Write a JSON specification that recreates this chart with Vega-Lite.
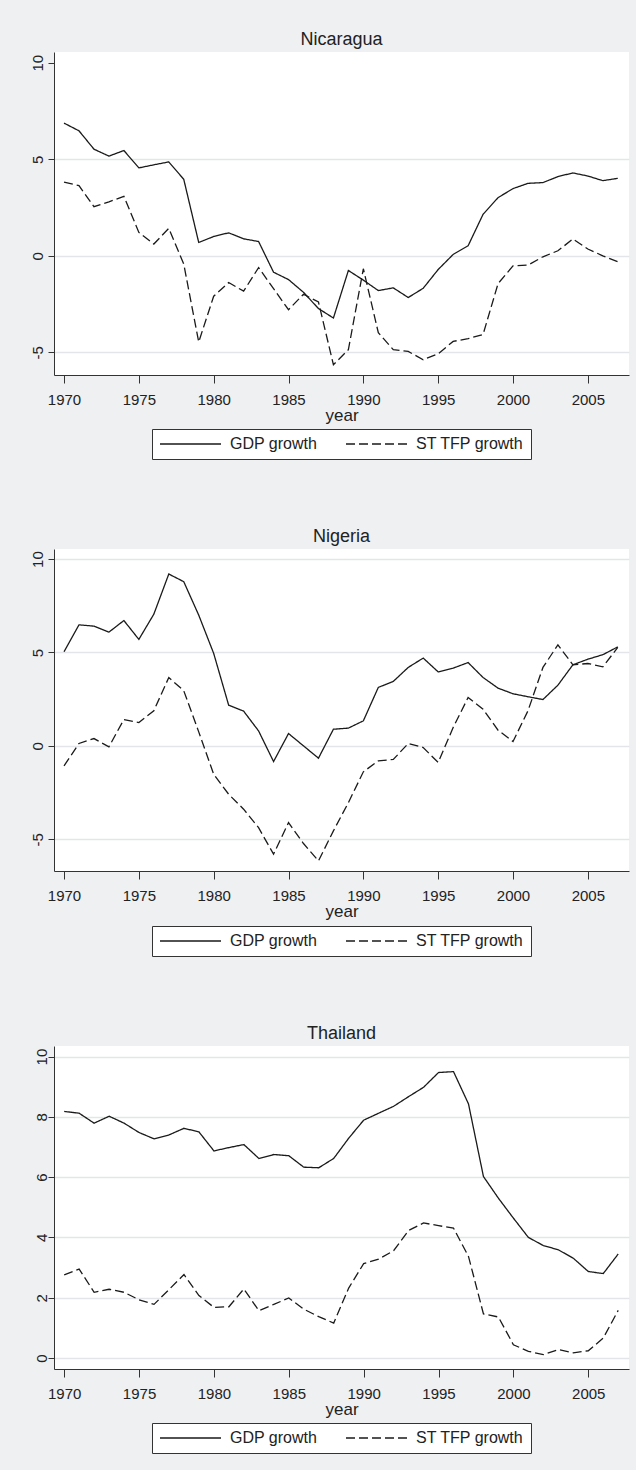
{
  "$schema": "https://vega.github.io/schema/vega-lite/v6.json",
  "background": "#eef0f2",
  "padding": {"left": 30, "top": 31, "right": 7, "bottom": 20},
  "spacing": 68,
  "resolve": {"scale": {"strokeDash": "independent"}, "legend": {"strokeDash": "independent"}},
  "config": {
    "font": "Liberation Sans",
    "view": {"stroke": null, "fill": "white"},
    "title": {"fontSize": 18, "fontWeight": "normal", "color": "#222222", "font": "Liberation Sans", "offset": 3},
    "axis": {
      "domainColor": "#333333",
      "tickColor": "#333333",
      "labelColor": "#222222",
      "titleColor": "#222222",
      "labelFont": "Liberation Sans",
      "titleFont": "Liberation Sans",
      "labelFontSize": 15,
      "titleFontSize": 17,
      "titleFontWeight": "normal",
      "gridColor": "#e3e5e8",
      "gridWidth": 1.5,
      "labelExpr": "'' + datum.value"
    },
    "axisX": {"grid": false, "tickSize": 8, "labelPadding": 9, "titlePadding": 0, "labelFlush": false, "labelOverlap": false},
    "axisY": {"grid": true, "tickSize": 6, "labelPadding": 3, "labelAngle": -90, "labelAlign": "center", "labelBaseline": "bottom", "title": null},
    "legend": {
      "orient": "none",
      "legendX": 98,
      "legendY": 377,
      "direction": "horizontal",
      "strokeColor": "#333333",
      "fillColor": "white",
      "padding": 7,
      "labelFont": "Liberation Sans",
      "labelFontSize": 16,
      "labelColor": "#222222",
      "labelOffset": 8,
      "columnPadding": 27,
      "clipHeight": 16,
      "symbolType": "stroke",
      "symbolSize": 3721,
      "symbolStrokeWidth": 1.3,
      "symbolStrokeColor": "#1a1a1a"
    }
  },
  "datasets": {
    "growth": [
      {"country": "Nicaragua", "year": 1970, "gdp": 6.87, "tfp": 3.81},
      {"country": "Nicaragua", "year": 1971, "gdp": 6.47, "tfp": 3.63},
      {"country": "Nicaragua", "year": 1972, "gdp": 5.52, "tfp": 2.54},
      {"country": "Nicaragua", "year": 1973, "gdp": 5.16, "tfp": 2.79},
      {"country": "Nicaragua", "year": 1974, "gdp": 5.45, "tfp": 3.08},
      {"country": "Nicaragua", "year": 1975, "gdp": 4.55, "tfp": 1.21},
      {"country": "Nicaragua", "year": 1976, "gdp": 4.71, "tfp": 0.61},
      {"country": "Nicaragua", "year": 1977, "gdp": 4.86, "tfp": 1.42},
      {"country": "Nicaragua", "year": 1978, "gdp": 3.96, "tfp": -0.43},
      {"country": "Nicaragua", "year": 1979, "gdp": 0.69, "tfp": -4.46},
      {"country": "Nicaragua", "year": 1980, "gdp": 1.0, "tfp": -2.09},
      {"country": "Nicaragua", "year": 1981, "gdp": 1.19, "tfp": -1.38},
      {"country": "Nicaragua", "year": 1982, "gdp": 0.88, "tfp": -1.83},
      {"country": "Nicaragua", "year": 1983, "gdp": 0.74, "tfp": -0.61},
      {"country": "Nicaragua", "year": 1984, "gdp": -0.85, "tfp": -1.7},
      {"country": "Nicaragua", "year": 1985, "gdp": -1.23, "tfp": -2.79},
      {"country": "Nicaragua", "year": 1986, "gdp": -1.89, "tfp": -1.99},
      {"country": "Nicaragua", "year": 1987, "gdp": -2.73, "tfp": -2.39},
      {"country": "Nicaragua", "year": 1988, "gdp": -3.22, "tfp": -5.64},
      {"country": "Nicaragua", "year": 1989, "gdp": -0.76, "tfp": -4.86},
      {"country": "Nicaragua", "year": 1990, "gdp": -1.26, "tfp": -0.67},
      {"country": "Nicaragua", "year": 1991, "gdp": -1.8, "tfp": -3.98},
      {"country": "Nicaragua", "year": 1992, "gdp": -1.66, "tfp": -4.86},
      {"country": "Nicaragua", "year": 1993, "gdp": -2.16, "tfp": -4.95},
      {"country": "Nicaragua", "year": 1994, "gdp": -1.68, "tfp": -5.38},
      {"country": "Nicaragua", "year": 1995, "gdp": -0.71, "tfp": -5.07},
      {"country": "Nicaragua", "year": 1996, "gdp": 0.07, "tfp": -4.43},
      {"country": "Nicaragua", "year": 1997, "gdp": 0.52, "tfp": -4.29},
      {"country": "Nicaragua", "year": 1998, "gdp": 2.15, "tfp": -4.07},
      {"country": "Nicaragua", "year": 1999, "gdp": 3.01, "tfp": -1.44},
      {"country": "Nicaragua", "year": 2000, "gdp": 3.48, "tfp": -0.52},
      {"country": "Nicaragua", "year": 2001, "gdp": 3.75, "tfp": -0.48},
      {"country": "Nicaragua", "year": 2002, "gdp": 3.79, "tfp": -0.05},
      {"country": "Nicaragua", "year": 2003, "gdp": 4.1, "tfp": 0.26},
      {"country": "Nicaragua", "year": 2004, "gdp": 4.29, "tfp": 0.87},
      {"country": "Nicaragua", "year": 2005, "gdp": 4.13, "tfp": 0.35},
      {"country": "Nicaragua", "year": 2006, "gdp": 3.89, "tfp": 0.0},
      {"country": "Nicaragua", "year": 2007, "gdp": 4.01, "tfp": -0.31},
      {"country": "Nigeria", "year": 1970, "gdp": 5.04, "tfp": -1.07},
      {"country": "Nigeria", "year": 1971, "gdp": 6.48, "tfp": 0.13},
      {"country": "Nigeria", "year": 1972, "gdp": 6.41, "tfp": 0.39},
      {"country": "Nigeria", "year": 1973, "gdp": 6.09, "tfp": -0.05},
      {"country": "Nigeria", "year": 1974, "gdp": 6.71, "tfp": 1.41},
      {"country": "Nigeria", "year": 1975, "gdp": 5.7, "tfp": 1.25},
      {"country": "Nigeria", "year": 1976, "gdp": 7.05, "tfp": 1.88},
      {"country": "Nigeria", "year": 1977, "gdp": 9.2, "tfp": 3.66},
      {"country": "Nigeria", "year": 1978, "gdp": 8.79, "tfp": 2.95},
      {"country": "Nigeria", "year": 1979, "gdp": 7.0, "tfp": 0.75},
      {"country": "Nigeria", "year": 1980, "gdp": 4.95, "tfp": -1.52},
      {"country": "Nigeria", "year": 1981, "gdp": 2.18, "tfp": -2.59},
      {"country": "Nigeria", "year": 1982, "gdp": 1.86, "tfp": -3.39},
      {"country": "Nigeria", "year": 1983, "gdp": 0.8, "tfp": -4.38},
      {"country": "Nigeria", "year": 1984, "gdp": -0.84, "tfp": -5.8},
      {"country": "Nigeria", "year": 1985, "gdp": 0.66, "tfp": -4.11},
      {"country": "Nigeria", "year": 1986, "gdp": 0.0, "tfp": -5.23},
      {"country": "Nigeria", "year": 1987, "gdp": -0.66, "tfp": -6.16},
      {"country": "Nigeria", "year": 1988, "gdp": 0.89, "tfp": -4.55},
      {"country": "Nigeria", "year": 1989, "gdp": 0.95, "tfp": -3.04},
      {"country": "Nigeria", "year": 1990, "gdp": 1.34, "tfp": -1.39},
      {"country": "Nigeria", "year": 1991, "gdp": 3.13, "tfp": -0.8},
      {"country": "Nigeria", "year": 1992, "gdp": 3.45, "tfp": -0.73},
      {"country": "Nigeria", "year": 1993, "gdp": 4.2, "tfp": 0.13},
      {"country": "Nigeria", "year": 1994, "gdp": 4.7, "tfp": -0.09},
      {"country": "Nigeria", "year": 1995, "gdp": 3.96, "tfp": -0.89},
      {"country": "Nigeria", "year": 1996, "gdp": 4.16, "tfp": 0.98},
      {"country": "Nigeria", "year": 1997, "gdp": 4.46, "tfp": 2.59},
      {"country": "Nigeria", "year": 1998, "gdp": 3.66, "tfp": 1.96},
      {"country": "Nigeria", "year": 1999, "gdp": 3.09, "tfp": 0.84},
      {"country": "Nigeria", "year": 2000, "gdp": 2.79, "tfp": 0.23},
      {"country": "Nigeria", "year": 2001, "gdp": 2.63, "tfp": 1.88},
      {"country": "Nigeria", "year": 2002, "gdp": 2.48, "tfp": 4.2},
      {"country": "Nigeria", "year": 2003, "gdp": 3.25, "tfp": 5.41},
      {"country": "Nigeria", "year": 2004, "gdp": 4.34, "tfp": 4.34},
      {"country": "Nigeria", "year": 2005, "gdp": 4.64, "tfp": 4.41},
      {"country": "Nigeria", "year": 2006, "gdp": 4.88, "tfp": 4.23},
      {"country": "Nigeria", "year": 2007, "gdp": 5.3, "tfp": 5.27},
      {"country": "Thailand", "year": 1970, "gdp": 8.18, "tfp": 2.76},
      {"country": "Thailand", "year": 1971, "gdp": 8.12, "tfp": 2.95},
      {"country": "Thailand", "year": 1972, "gdp": 7.79, "tfp": 2.18},
      {"country": "Thailand", "year": 1973, "gdp": 8.02, "tfp": 2.28},
      {"country": "Thailand", "year": 1974, "gdp": 7.79, "tfp": 2.18},
      {"country": "Thailand", "year": 1975, "gdp": 7.48, "tfp": 1.93},
      {"country": "Thailand", "year": 1976, "gdp": 7.27, "tfp": 1.78},
      {"country": "Thailand", "year": 1977, "gdp": 7.4, "tfp": 2.27},
      {"country": "Thailand", "year": 1978, "gdp": 7.62, "tfp": 2.77},
      {"country": "Thailand", "year": 1979, "gdp": 7.5, "tfp": 2.07},
      {"country": "Thailand", "year": 1980, "gdp": 6.87, "tfp": 1.68},
      {"country": "Thailand", "year": 1981, "gdp": 6.98, "tfp": 1.7},
      {"country": "Thailand", "year": 1982, "gdp": 7.08, "tfp": 2.29},
      {"country": "Thailand", "year": 1983, "gdp": 6.62, "tfp": 1.57},
      {"country": "Thailand", "year": 1984, "gdp": 6.75, "tfp": 1.78},
      {"country": "Thailand", "year": 1985, "gdp": 6.71, "tfp": 1.99},
      {"country": "Thailand", "year": 1986, "gdp": 6.33, "tfp": 1.62},
      {"country": "Thailand", "year": 1987, "gdp": 6.31, "tfp": 1.37},
      {"country": "Thailand", "year": 1988, "gdp": 6.62, "tfp": 1.16},
      {"country": "Thailand", "year": 1989, "gdp": 7.29, "tfp": 2.32},
      {"country": "Thailand", "year": 1990, "gdp": 7.89, "tfp": 3.13},
      {"country": "Thailand", "year": 1991, "gdp": 8.12, "tfp": 3.28},
      {"country": "Thailand", "year": 1992, "gdp": 8.35, "tfp": 3.56},
      {"country": "Thailand", "year": 1993, "gdp": 8.67, "tfp": 4.23},
      {"country": "Thailand", "year": 1994, "gdp": 8.98, "tfp": 4.48},
      {"country": "Thailand", "year": 1995, "gdp": 9.47, "tfp": 4.39},
      {"country": "Thailand", "year": 1996, "gdp": 9.5, "tfp": 4.31},
      {"country": "Thailand", "year": 1997, "gdp": 8.43, "tfp": 3.37},
      {"country": "Thailand", "year": 1998, "gdp": 6.02, "tfp": 1.46},
      {"country": "Thailand", "year": 1999, "gdp": 5.3, "tfp": 1.36},
      {"country": "Thailand", "year": 2000, "gdp": 4.64, "tfp": 0.44},
      {"country": "Thailand", "year": 2001, "gdp": 4.0, "tfp": 0.22},
      {"country": "Thailand", "year": 2002, "gdp": 3.73, "tfp": 0.11},
      {"country": "Thailand", "year": 2003, "gdp": 3.59, "tfp": 0.28},
      {"country": "Thailand", "year": 2004, "gdp": 3.31, "tfp": 0.17},
      {"country": "Thailand", "year": 2005, "gdp": 2.87, "tfp": 0.24},
      {"country": "Thailand", "year": 2006, "gdp": 2.8, "tfp": 0.66},
      {"country": "Thailand", "year": 2007, "gdp": 3.45, "tfp": 1.58}
    ]
  },
  "vconcat": [
    {
      "title": "Nicaragua",
      "width": 575,
      "height": 323,
      "data": {"name": "growth"},
      "transform": [
        {"filter": "datum.country === 'Nicaragua'"},
        {"fold": ["gdp", "tfp"], "as": ["series", "value"]}
      ],
      "mark": {"type": "line", "color": "#1a1a1a", "strokeWidth": 1.3},
      "encoding": {
        "x": {"field": "year", "type": "quantitative", "scale": {"domain": [1969.33, 2007.75], "nice": false, "zero": false}, "axis": {"values": [1970, 1975, 1980, 1985, 1990, 1995, 2000, 2005], "title": "year"}},
        "y": {"field": "value", "type": "quantitative", "scale": {"domain": [-6.17, 10.55], "nice": false, "zero": false}, "axis": {"values": [-5, 0, 5, 10], "gridOpacity": {"condition": {"test": "datum.value === 10", "value": 0}, "value": 1}}},
        "strokeDash": {"field": "series", "type": "nominal", "scale": {"domain": ["gdp", "tfp"], "range": [[1, 0], [9, 4]]}, "legend": {"title": null, "labelExpr": "datum.label === 'gdp' ? 'GDP growth' : 'ST TFP growth'"}}
      }
    },
    {
      "title": "Nigeria",
      "width": 575,
      "height": 322,
      "data": {"name": "growth"},
      "transform": [
        {"filter": "datum.country === 'Nigeria'"},
        {"fold": ["gdp", "tfp"], "as": ["series", "value"]}
      ],
      "mark": {"type": "line", "color": "#1a1a1a", "strokeWidth": 1.3},
      "encoding": {
        "x": {"field": "year", "type": "quantitative", "scale": {"domain": [1969.33, 2007.75], "nice": false, "zero": false}, "axis": {"values": [1970, 1975, 1980, 1985, 1990, 1995, 2000, 2005], "title": "year"}},
        "y": {"field": "value", "type": "quantitative", "scale": {"domain": [-6.7, 10.54], "nice": false, "zero": false}, "axis": {"values": [-5, 0, 5, 10]}},
        "strokeDash": {"field": "series", "type": "nominal", "scale": {"domain": ["gdp", "tfp"], "range": [[1, 0], [9, 4]]}, "legend": {"title": null, "labelExpr": "datum.label === 'gdp' ? 'GDP growth' : 'ST TFP growth'"}}
      }
    },
    {
      "title": "Thailand",
      "width": 575,
      "height": 323,
      "data": {"name": "growth"},
      "transform": [
        {"filter": "datum.country === 'Thailand'"},
        {"fold": ["gdp", "tfp"], "as": ["series", "value"]}
      ],
      "mark": {"type": "line", "color": "#1a1a1a", "strokeWidth": 1.3},
      "encoding": {
        "x": {"field": "year", "type": "quantitative", "scale": {"domain": [1969.32, 2007.72], "nice": false, "zero": false}, "axis": {"values": [1970, 1975, 1980, 1985, 1990, 1995, 2000, 2005], "title": "year"}},
        "y": {"field": "value", "type": "quantitative", "scale": {"domain": [-0.365, 10.35], "nice": false, "zero": false}, "axis": {"values": [0, 2, 4, 6, 8, 10], "labelPadding": -1}},
        "strokeDash": {"field": "series", "type": "nominal", "scale": {"domain": ["gdp", "tfp"], "range": [[1, 0], [9, 4]]}, "legend": {"title": null, "labelExpr": "datum.label === 'gdp' ? 'GDP growth' : 'ST TFP growth'"}}
      }
    }
  ]
}
